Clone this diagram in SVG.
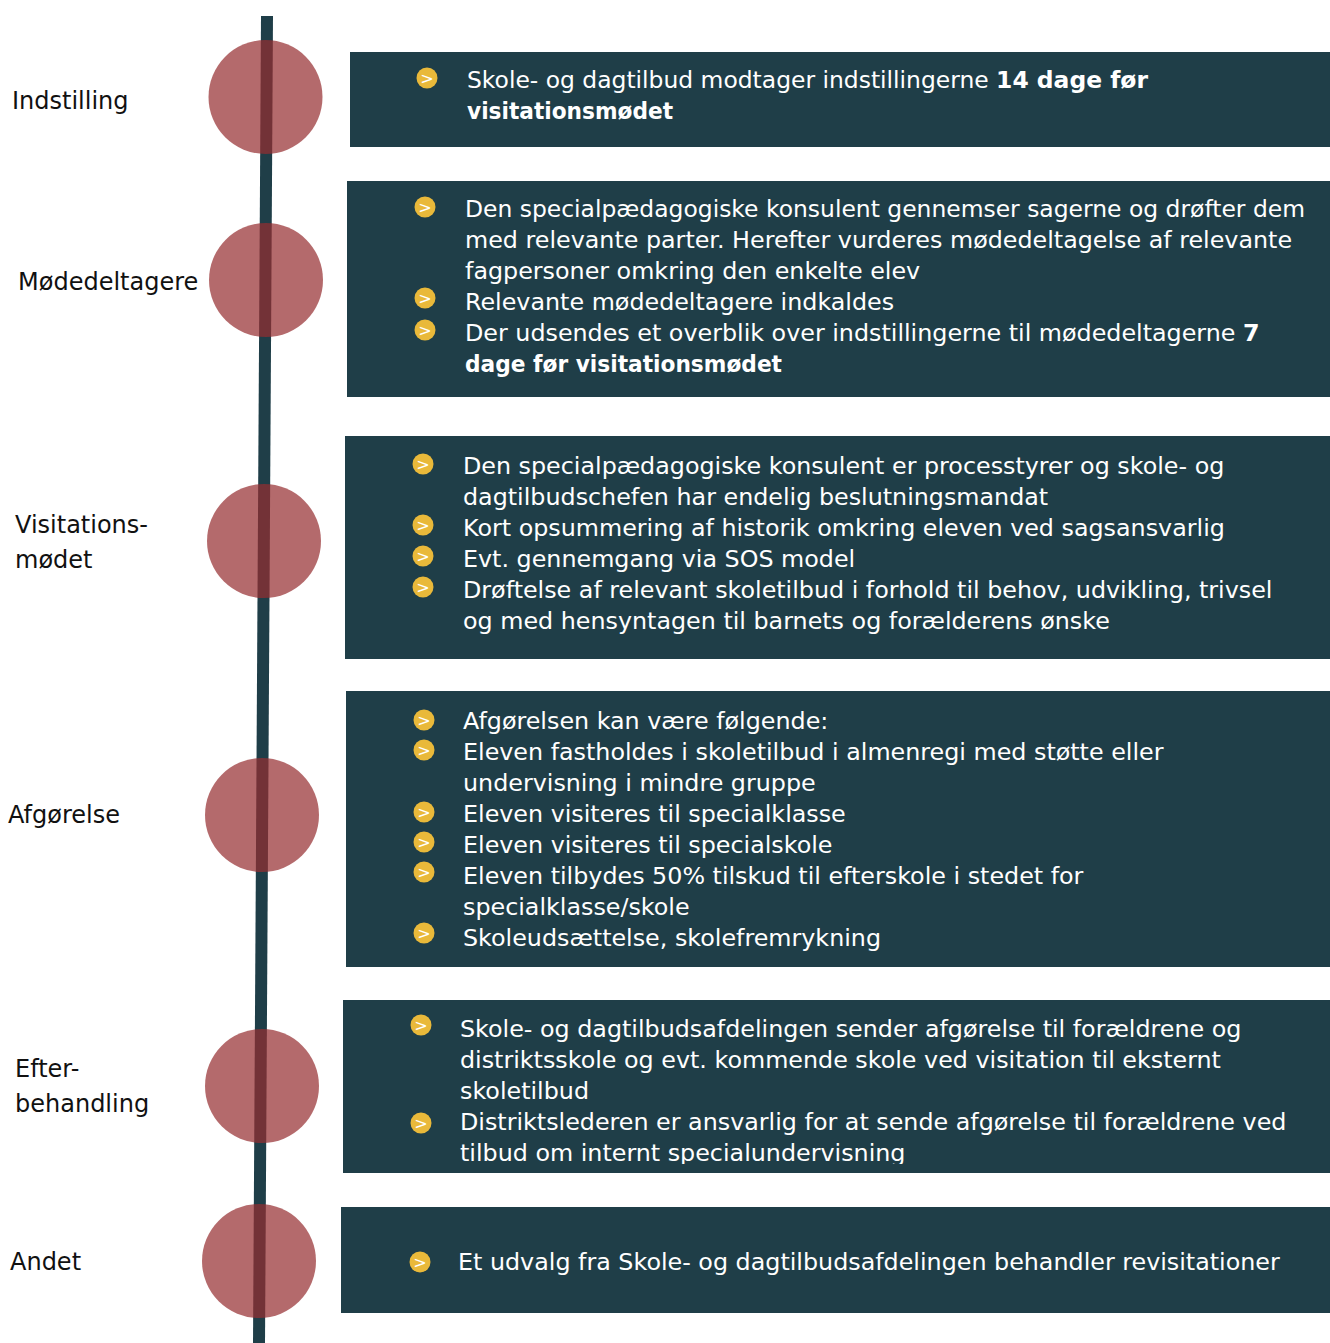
<svg xmlns="http://www.w3.org/2000/svg" width="1330" height="1343" viewBox="0 0 1330 1343">
<style>
.box{fill:#1f3e48}
.dot{fill:#952d30;fill-opacity:0.71}
.lbl{font-family:'DejaVu Sans',sans-serif;font-size:24px;fill:#111}
.t{font-family:'DejaVu Sans',sans-serif;font-size:23.8px;fill:#ffffff}
.b{font-weight:bold}
.bul{fill:#e9b93a}
.chev{font-family:'DejaVu Sans',sans-serif;font-size:16px;fill:#ffffff;text-anchor:middle}
</style>
<defs>
<g id="bullet"><circle class="bul" cx="0" cy="0" r="10.5"/><text class="chev" x="0" y="5.5">&gt;</text></g>
<clipPath id="clip5"><rect x="343" y="1000" width="987" height="164"/></clipPath>
</defs>
<g id="connectors">
<line x1="267" y1="16" x2="259" y2="1343" stroke="#1f3e48" stroke-width="12"/>
</g>
<g id="stage-indstilling">
<circle class="dot" cx="265.5" cy="97" r="57"/>
<text class="lbl" x="12" y="109">Indstilling</text>
<rect class="box" x="350" y="52" width="980" height="95"/>
<use href="#bullet" x="427" y="78"/>
<text class="t" x="467" y="88" textLength="681" lengthAdjust="spacingAndGlyphs">Skole- og dagtilbud modtager indstillingerne <tspan class="b">14 dage før</tspan></text>
<text class="t b" x="467" y="119" textLength="206" lengthAdjust="spacingAndGlyphs">visitationsmødet</text>
</g>
<g id="stage-modedeltagere">
<circle class="dot" cx="266" cy="280" r="57"/>
<text class="lbl" x="18" y="290">Mødedeltagere</text>
<rect class="box" x="347" y="181" width="983" height="216"/>
<use href="#bullet" x="425" y="207"/>
<use href="#bullet" x="425" y="298"/>
<use href="#bullet" x="425" y="330"/>
<text class="t" x="465" y="217" textLength="840" lengthAdjust="spacingAndGlyphs">Den specialpædagogiske konsulent gennemser sagerne og drøfter dem</text>
<text class="t" x="465" y="248">med relevante parter. Herefter vurderes mødedeltagelse af relevante</text>
<text class="t" x="465" y="279">fagpersoner omkring den enkelte elev</text>
<text class="t" x="465" y="310">Relevante mødedeltagere indkaldes</text>
<text class="t" x="465" y="341">Der udsendes et overblik over indstillingerne til mødedeltagerne <tspan class="b">7</tspan></text>
<text class="t b" x="465" y="372" textLength="317" lengthAdjust="spacingAndGlyphs">dage før visitationsmødet</text>
</g>
<g id="stage-visitationsmodet">
<circle class="dot" cx="264" cy="541" r="57"/>
<text class="lbl" x="15" y="533">Visitations-</text>
<text class="lbl" x="15" y="568">mødet</text>
<rect class="box" x="345" y="436" width="985" height="223"/>
<use href="#bullet" x="423" y="464"/>
<use href="#bullet" x="423" y="525"/>
<use href="#bullet" x="423" y="556"/>
<use href="#bullet" x="423" y="587"/>
<text class="t" x="463" y="474">Den specialpædagogiske konsulent er processtyrer og skole- og</text>
<text class="t" x="463" y="505">dagtilbudschefen har endelig beslutningsmandat</text>
<text class="t" x="463" y="536">Kort opsummering af historik omkring eleven ved sagsansvarlig</text>
<text class="t" x="463" y="567">Evt. gennemgang via SOS model</text>
<text class="t" x="463" y="598">Drøftelse af relevant skoletilbud i forhold til behov, udvikling, trivsel</text>
<text class="t" x="463" y="629">og med hensyntagen til barnets og forælderens ønske</text>
</g>
<g id="stage-afgorelse">
<circle class="dot" cx="262" cy="815" r="57"/>
<text class="lbl" x="8" y="823">Afgørelse</text>
<rect class="box" x="346" y="691" width="984" height="276"/>
<use href="#bullet" x="424" y="720"/>
<use href="#bullet" x="424" y="750"/>
<use href="#bullet" x="424" y="812"/>
<use href="#bullet" x="424" y="842"/>
<use href="#bullet" x="424" y="872"/>
<use href="#bullet" x="424" y="933"/>
<text class="t" x="463" y="729">Afgørelsen kan være følgende:</text>
<text class="t" x="463" y="760">Eleven fastholdes i skoletilbud i almenregi med støtte eller</text>
<text class="t" x="463" y="791">undervisning i mindre gruppe</text>
<text class="t" x="463" y="822">Eleven visiteres til specialklasse</text>
<text class="t" x="463" y="853">Eleven visiteres til specialskole</text>
<text class="t" x="463" y="884">Eleven tilbydes 50% tilskud til efterskole i stedet for</text>
<text class="t" x="463" y="915">specialklasse/skole</text>
<text class="t" x="463" y="946">Skoleudsættelse, skolefremrykning</text>
</g>
<g id="stage-efterbehandling">
<circle class="dot" cx="262" cy="1086" r="57"/>
<text class="lbl" x="15" y="1077">Efter-</text>
<text class="lbl" x="15" y="1112">behandling</text>
<rect class="box" x="343" y="1000" width="987" height="173"/>
<use href="#bullet" x="421" y="1025"/>
<use href="#bullet" x="421" y="1123"/>
<g clip-path="url(#clip5)">
<text class="t" x="460" y="1037">Skole- og dagtilbudsafdelingen sender afgørelse til forældrene og</text>
<text class="t" x="460" y="1068">distriktsskole og evt. kommende skole ved visitation til eksternt</text>
<text class="t" x="460" y="1099">skoletilbud</text>
<text class="t" x="460" y="1130">Distriktslederen er ansvarlig for at sende afgørelse til forældrene ved</text>
<text class="t" x="460" y="1161">tilbud om internt specialundervisning</text>
</g>
</g>
<g id="stage-andet">
<circle class="dot" cx="259" cy="1261" r="57"/>
<text class="lbl" x="10" y="1270">Andet</text>
<rect class="box" x="341" y="1207" width="989" height="106"/>
<use href="#bullet" x="420" y="1262"/>
<text class="t" x="458" y="1270">Et udvalg fra Skole- og dagtilbudsafdelingen behandler revisitationer</text>
</g>
</svg>
